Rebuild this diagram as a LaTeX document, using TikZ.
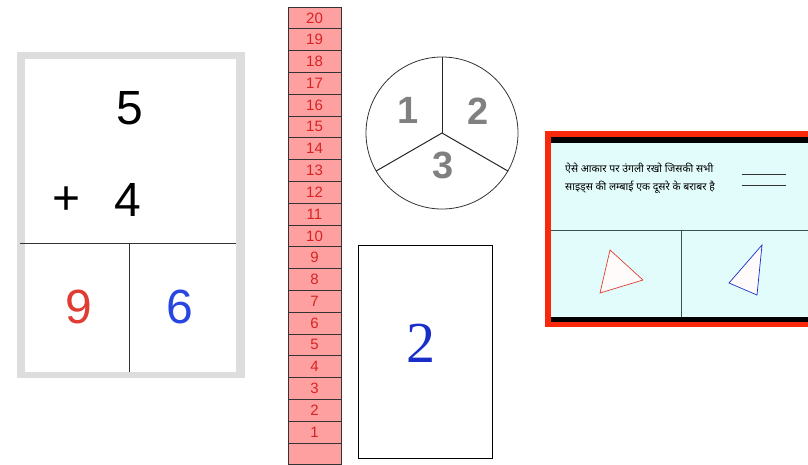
\documentclass[tikz,border=0pt]{standalone}
\usepackage{fontspec}
\usepackage{tikz}
\usetikzlibrary{positioning}
\usepackage{xcolor}
\newfontfamily\sansdigits{Liberation Sans}
\newfontfamily\serifdigits{Liberation Serif}
\newfontfamily\hindifont[Script=Devanagari]{Noto Sans}
\definecolor{framegray}{RGB}{221,221,221}
\definecolor{rulerpink}{RGB}{255,160,160}
\definecolor{rulerred}{RGB}{215,35,35}
\definecolor{cardred}{RGB}{250,40,10}
\definecolor{cardcyan}{RGB}{226,252,252}
\definecolor{slate}{RGB}{60,80,80}
\definecolor{digitred}{RGB}{225,60,50}
\definecolor{digitblue}{RGB}{40,70,225}
\definecolor{inkblue}{RGB}{25,45,200}

\begin{document}
\begin{tikzpicture}[x=1pt,y=-1pt,
  bigdigit/.style={inner sep=0pt,font=\sansdigits\fontsize{48}{48}\selectfont},
  cell/.style={draw=black!80,fill=rulerpink,line width=1pt},
  rulenum/.style={inner sep=0pt,text=rulerred,font=\sansdigits\fontsize{15}{15}\selectfont},
  sector/.style={inner sep=0pt,text=black!50,font=\sansdigits\bfseries\fontsize{38}{38}\selectfont},
  tri/.style={line width=0.7pt,fill=white!93!pink}]

\useasboundingbox (0,0) rectangle (808,464);
\clip (0,0) rectangle (808,464);

% sum card
\fill[framegray] (17,52) rectangle (245,378);
\fill[white] (25,59) rectangle (236,372);
\draw[black!80] (20,243) -- (236,243);
\draw[black!80] (129,243) -- (129,372);
\node[bigdigit] (five) at (130,108) {5};
\node[bigdigit] (plus) at (67,201) {+};
\node[bigdigit] (four) at (128,200) {4};
\node[bigdigit,text=digitred] (nine) at (79,307) {9};
\node[bigdigit,text=digitblue] (six) at (180,307) {6};

% ruler
\foreach \i in {0,...,20}{\draw[cell] (288,{7+\i*21.8}) rectangle (341,{7+(\i+1)*21.8});}
\foreach \n in {1,...,20}{\node[rulenum] (r\n) at (314.5,{7+(20.5-\n)*21.8}) {\n};}

% spinner
\node[circle,draw=black!80,line width=0.8pt,minimum size=152pt,inner sep=0pt] (dial) at (442,133) {};
\foreach \a in {90,210,330}{\draw[black!85,line width=1pt] (dial.center) -- (dial.\a);}
\node[sector] (one) at (408,110) {1};
\node[sector] (two) at (478,111) {2};
\node[sector] (three) at (443,165) {3};

% number box
\draw[black,line width=1pt] (358,245) rectangle (492,458);
\node[inner sep=0pt,text=inkblue,font=\serifdigits\fontsize{58}{58}\selectfont] (numtwo) at (421,343) {2};

% question card
\fill[cardred] (545,131) rectangle (815,327);
\fill[black] (551,137) rectangle (815,322);
\fill[cardcyan] (551,143) rectangle (815,317);
\draw[slate,line width=1pt] (551,230) -- (815,230);
\draw[slate,line width=1pt] (681,230) -- (681,317);
\node[anchor=west,inner sep=0pt,align=left,font=\hindifont\fontsize{10.5}{18}\selectfont] (question) at (565,178)
  {ऐसे आकार पर उंगली रखो जिसकी सभी\\साइड्स की लम्बाई एक दूसरे के बराबर है};
\draw[black!80,line width=1pt] (742,174) -- (786,174);
\draw[black!80,line width=1pt] (742,185) -- (786,185);
\draw[tri,draw=digitred] (610,250) -- (643,280) -- (600,293) -- cycle;
\draw[tri,draw=inkblue] (762,245) -- (757,295) -- (729,283) -- cycle;

\end{tikzpicture}
\end{document}
